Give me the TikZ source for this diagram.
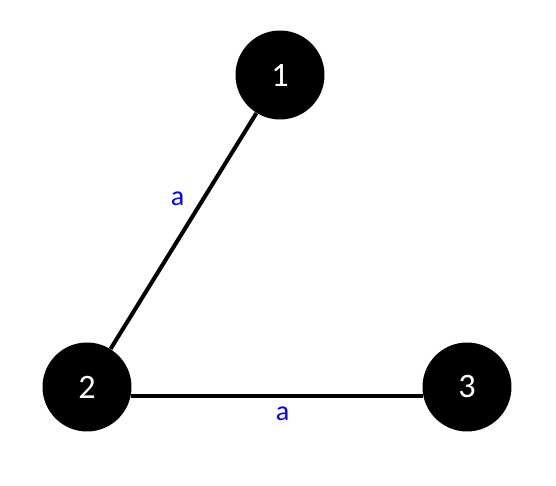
\documentclass[tikz,border=0pt]{standalone}
\usepackage{fontspec}
\setmainfont{Carlito}
\usepackage{xcolor}
\usetikzlibrary{positioning}

\begin{document}
\begin{tikzpicture}[x=0.02cm, y=-0.02cm,
  vertex/.style={circle, fill=black, draw=none, minimum size=1.78cm, inner sep=0pt, text=white, font=\fontsize{19.5}{20}\selectfont},
  edge/.style={line width=2.3pt},
  elabel/.style={text=blue, font=\fontsize{16}{17}\selectfont, inner sep=0pt}]
\useasboundingbox (0,0) rectangle (556,486);
\node[vertex] (n1) at (280,75) {1};
\node[vertex] (n2) at (87,387) {2};
\node[vertex] (n3) at (467,387) {3};
\draw[edge] (n1) -- (n2);
\draw[edge] (n2.-12.8) -- (n3.192.8);
\node[elabel] (l12) at (177.5,199) {a};
\node[elabel] (l23) at (282.5,414) {a};
\end{tikzpicture}
\end{document}
